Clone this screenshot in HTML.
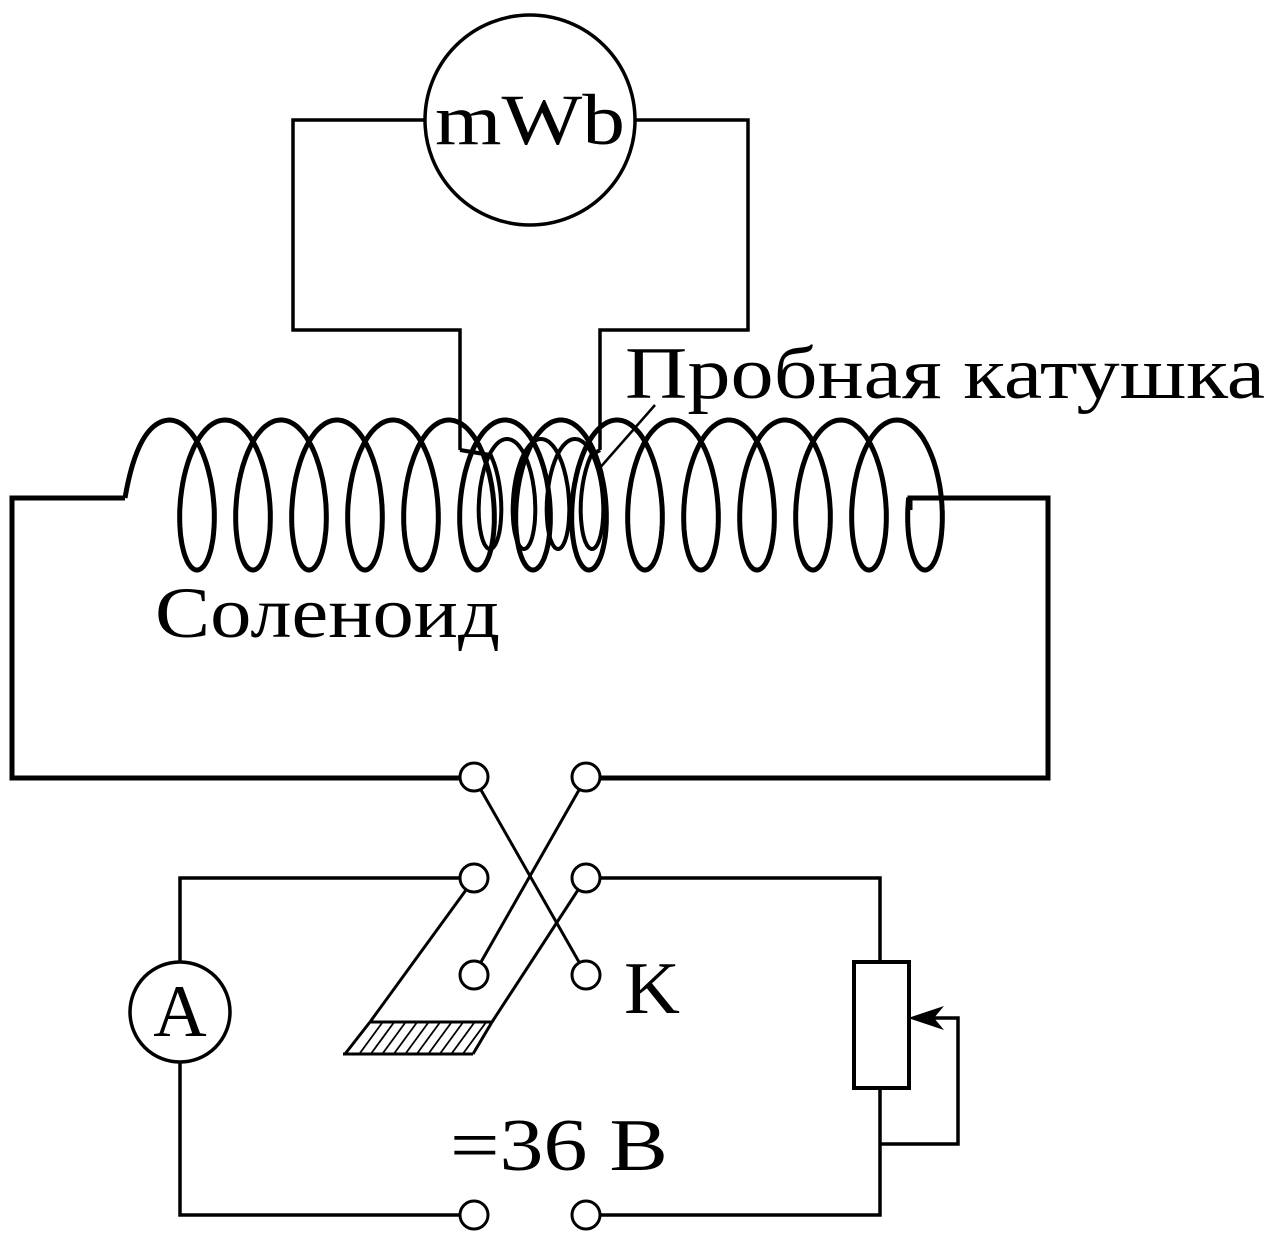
<!DOCTYPE html>
<html><head><meta charset="utf-8"><style>
html,body{margin:0;padding:0;background:#fff}
svg{display:block}
text{font-family:"Liberation Serif","DejaVu Serif",serif;fill:#000}
</style></head><body>
<svg id="s" width="1280" height="1236" viewBox="0 0 1280 1236" xmlns="http://www.w3.org/2000/svg">
<g fill="none" stroke="#000" stroke-linejoin="miter">
<circle cx="530" cy="120" r="105" stroke-width="3.5"/>
<polyline points="425,120 293,120 293,330 460,330 460,450" stroke-width="3.5"/>
<polyline points="636,120 748,120 748,330 600,330 600,450" stroke-width="3.5"/>
<line x1="598" y1="470" x2="655" y2="405" stroke-width="2.5"/>
<polyline points="460,778 12,778 12,498 125,498" stroke-width="5"/>
<polyline points="600,778 1048,778 1048,498 910,498 910,510" stroke-width="5"/>
<path id="coil" stroke-width="5"/>
<path id="probe" stroke-width="4"/>
<g stroke-width="3">
<circle cx="474" cy="777" r="14"/><circle cx="586" cy="777" r="14"/>
<circle cx="474" cy="878" r="14"/><circle cx="586" cy="878" r="14"/>
<circle cx="474" cy="975" r="14"/><circle cx="586" cy="975" r="14"/>
<circle cx="474" cy="1215" r="14"/><circle cx="586" cy="1215" r="14"/>
<line x1="481" y1="790" x2="579" y2="962"/>
<line x1="579" y1="790" x2="481" y2="962"/>
<line x1="466" y1="890" x2="370" y2="1022"/>
<line x1="578" y1="890" x2="492" y2="1022"/>
<line x1="370" y1="1022" x2="492" y2="1022"/>
<line x1="492" y1="1022" x2="473" y2="1054"/>
<line x1="370" y1="1022" x2="345" y2="1054"/>
<line x1="343" y1="1054" x2="473" y2="1054"/>
</g>
<g stroke-width="1.8" id="hatch"></g>
<polyline points="460,878 180,878 180,962" stroke-width="3.5"/>
<circle cx="180" cy="1012" r="50" stroke-width="3.5"/>
<polyline points="180,1062 180,1215 460,1215" stroke-width="3.5"/>
<polyline points="600,878 880,878 880,962" stroke-width="3.5"/>
<polyline points="600,1215 880,1215 880,1088" stroke-width="3.5"/>
<rect x="854" y="962" width="55" height="126" stroke-width="4"/>
<polyline points="880,1144 958,1144 958,1018 920,1018" stroke-width="3.5"/>
</g>
<polygon points="908,1018 944,1006 934,1018 944,1030" fill="#000"/>
<text x="435" y="144" font-size="72" textLength="190" lengthAdjust="spacingAndGlyphs">mWb</text>
<text x="625" y="398" font-size="74" textLength="640" lengthAdjust="spacingAndGlyphs">Пробная катушка</text>
<text x="155" y="637" font-size="72" textLength="345" lengthAdjust="spacingAndGlyphs">Соленоид</text>
<text x="180" y="1036" font-size="74" text-anchor="middle">A</text>
<text x="624" y="1013" font-size="74" textLength="56" lengthAdjust="spacingAndGlyphs">K</text>
<text x="450" y="1170" font-size="74" textLength="218" lengthAdjust="spacingAndGlyphs">=36 B</text>
</svg>
<script>
function helix(x0,pitch,yc,R,r,tStart,tEnd){
  var k=pitch/(2*Math.PI),d="",first=true;
  for(var t=tStart;t<=tEnd+1e-9;t+=0.04){
    var x=x0+k*t-r*Math.sin(t), y=yc+R*Math.cos(t);
    d+=(first?"M":"L")+x.toFixed(1)+","+y.toFixed(1);first=false;
  }
  return d;
}
var c=helix(197,56,495,75,30,-Math.PI,13*2*Math.PI+Math.PI*0.5);
document.getElementById('coil').setAttribute('d',"M125,498 Q138,422 169,420 "+c.replace(/^M[^L]*/,""));
var p=helix(490,34,494,55,19,-Math.PI*0.75,3*2*Math.PI+Math.PI*0.75);
document.getElementById('probe').setAttribute('d',"M460,450 "+p.replace(/^M/,"L")+" L600,450");
var h=document.getElementById('hatch'),s="";
for(var i=0;i<10;i++){var x=382+i*11.5;s+='<line x1="'+x+'" y1="1023" x2="'+(x-22)+'" y2="1053"/>';}
h.innerHTML=s;
</script>
</body></html>
